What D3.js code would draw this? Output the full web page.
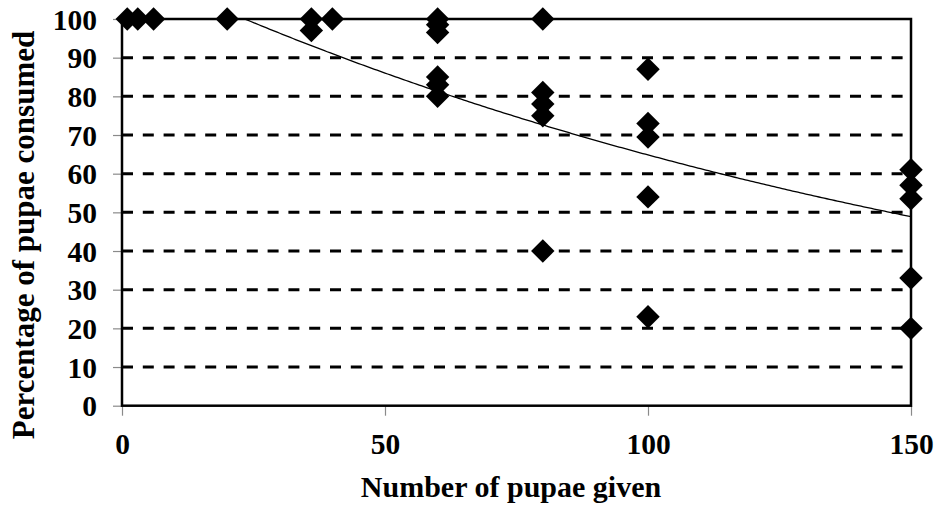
<!DOCTYPE html>
<html>
<head>
<meta charset="utf-8">
<script src="https://cdn.jsdelivr.net/npm/d3@7"></script>
<style>
  html, body { margin: 0; padding: 0; background: #fff; }
  svg { display: block; }
  text { font-family: "Liberation Serif", "Times New Roman", serif; font-weight: bold; fill: #000; }
</style>
</head>
<body>
<svg id="chart" width="941" height="512"></svg>
<script>
// Pupae offered per trial and the share of them eaten (%)
const pupaeGiven = [1, 3, 6, 20, 36, 36, 40, 60, 60, 60, 60, 60, 60, 80, 80, 80, 80, 80, 100, 100, 100, 100, 100, 150, 150, 150, 150, 150];
const pctConsumed = [100, 100, 100, 100, 100, 97, 100, 100, 98.5, 96.5, 85, 83, 80, 100, 81, 78, 75, 40, 87, 73, 69.5, 54, 23, 61, 57, 53.5, 33, 20];

// Exponential trendline y = a * exp(b * x)
const trendA = 114.1;
const trendB = -0.00565;

const xTicks = [0, 50, 100, 150];
const yTicks = [0, 10, 20, 30, 40, 50, 60, 70, 80, 90, 100];

const svg = d3.select("#chart");
const plot = { left: 122, right: 911, top: 19, bottom: 405.7 };

const x = d3.scaleLinear().domain([0, 150]).range([plot.left, plot.right]);
const y = d3.scaleLinear().domain([0, 100]).range([plot.bottom, plot.top]);

svg.append("defs").append("clipPath").attr("id", "plotClip")
  .append("rect")
  .attr("x", plot.left).attr("y", plot.top)
  .attr("width", plot.right - plot.left).attr("height", plot.bottom - plot.top);

// Dashed horizontal gridlines
svg.append("g")
  .selectAll("line")
  .data(yTicks.filter(v => v > 0 && v < 100))
  .join("line")
  .attr("x1", plot.left).attr("x2", plot.right - 8)
  .attr("y1", d => y(d)).attr("y2", d => y(d))
  .attr("stroke", "#000")
  .attr("stroke-width", 3)
  .attr("stroke-dasharray", "11,9.8");

// Y axis: tick marks and labels
const yAxis = svg.append("g")
  .attr("transform", `translate(${plot.left},0)`)
  .call(d3.axisLeft(y).tickValues(yTicks).tickSize(9).tickPadding(16).tickFormat(d3.format("d")));
yAxis.select(".domain").remove();
yAxis.selectAll(".tick line").attr("stroke", "#8a8a8a").attr("stroke-width", 1.2);
yAxis.selectAll(".tick text")
  .attr("font-size", 29.5)
  .attr("dy", "0.34em")
  .style("font-family", "'Liberation Serif', 'Times New Roman', serif")
  .style("font-weight", "bold");

// X axis: tick marks and labels
const xAxis = svg.append("g")
  .attr("transform", `translate(0,${plot.bottom})`)
  .call(d3.axisBottom(x).tickValues(xTicks).tickSize(10).tickPadding(17).tickFormat(d3.format("d")));
xAxis.select(".domain").remove();
xAxis.selectAll(".tick line").attr("stroke", "#8a8a8a").attr("stroke-width", 1.2);
xAxis.selectAll(".tick text")
  .attr("font-size", 29.5)
  .attr("dy", "0.71em")
  .style("font-family", "'Liberation Serif', 'Times New Roman', serif")
  .style("font-weight", "bold");

// Plot frame
svg.append("rect")
  .attr("x", plot.left).attr("y", plot.top)
  .attr("width", plot.right - plot.left).attr("height", plot.bottom - plot.top)
  .attr("fill", "none")
  .attr("stroke", "#000")
  .attr("stroke-width", 2.5);

// Trendline
const trendX = d3.range(0, 150.5, 0.5);
svg.append("path")
  .attr("clip-path", "url(#plotClip)")
  .datum(trendX)
  .attr("fill", "none")
  .attr("stroke", "#000")
  .attr("stroke-width", 1.3)
  .attr("d", d3.line().x(d => x(d)).y(d => y(trendA * Math.exp(trendB * d))));

// Diamond markers
const diamond = d3.symbol().type(d3.symbolSquare).size(275);
svg.append("g")
  .selectAll("path")
  .data(pupaeGiven.map((v, i) => [v, pctConsumed[i]]))
  .join("path")
  .attr("d", diamond)
  .attr("transform", d => `translate(${x(d[0])},${y(d[1])}) rotate(45)`)
  .attr("fill", "#000");

// Axis titles
svg.append("text")
  .attr("x", 511).attr("y", 497)
  .attr("text-anchor", "middle")
  .attr("font-size", 30)
  .text("Number of pupae given");

svg.append("text")
  .attr("transform", "translate(34,235) rotate(-90)")
  .attr("text-anchor", "middle")
  .attr("font-size", 31)
  .text("Percentage of pupae consumed");
</script>
</body>
</html>
